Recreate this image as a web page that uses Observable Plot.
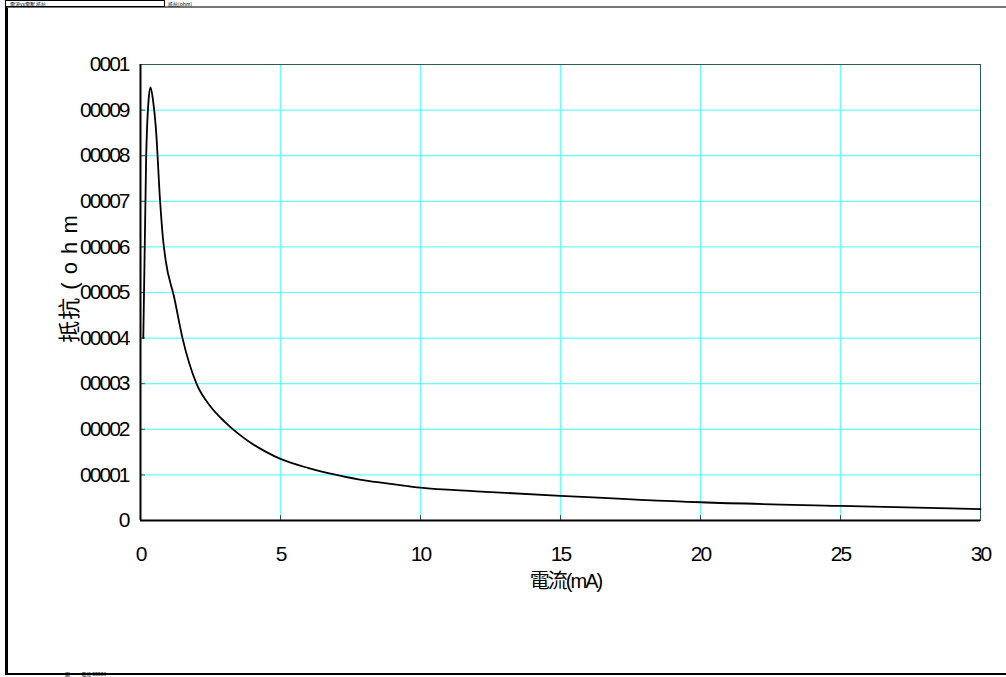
<!DOCTYPE html>
<html><head><meta charset="utf-8">
<script src="https://cdn.jsdelivr.net/npm/d3@7"></script>
<script src="https://cdn.jsdelivr.net/npm/@observablehq/plot@0.6"></script>
<style>
body{margin:0;background:#fff;font-family:"Liberation Sans","Noto Sans CJK TC",sans-serif;}
#wrap{position:relative;width:1006px;height:677px;overflow:hidden;}
#frame{position:absolute;left:5px;top:6px;width:1010px;height:665px;border-left:3px solid #000;border-top:2px solid #777;border-bottom:2px solid #000;pointer-events:none;}
#ttl{position:absolute;left:5px;top:0px;width:150px;height:5px;border:1px solid #000;font:5px/6px "Noto Sans CJK TC";white-space:nowrap;padding:0 4px;}
#ttl2{position:absolute;left:168px;top:1px;font:5px/5px "Noto Sans CJK TC";white-space:nowrap;}
#foot{position:absolute;left:65px;top:671px;font:5px/6px "Noto Sans CJK TC";white-space:nowrap;}
</style></head>
<body><div id="wrap"><div id="chart"></div><div id="frame"></div><div id="ttl">電流vs電壓 抵抗</div><div id="ttl2">抵抗(ohm)</div><div id="foot">圖 &nbsp;&nbsp;&nbsp;&nbsp;&nbsp;&nbsp;&nbsp;&nbsp;&nbsp;電流 00003</div></div>
<script>
const current = [0.1, 0.2, 0.3, 0.36, 0.45, 0.55, 0.7, 0.8, 0.9, 1.2, 1.5, 2.0, 2.5, 3.0, 3.5, 4, 4.5, 5, 6, 7, 8, 9, 10, 12, 15, 20, 25, 30];
const resistance = [0.0004, 0.00079, 0.00093, 0.00095, 0.00092, 0.00086, 0.0007, 0.00062, 0.00057, 0.00049, 0.0004, 0.0003, 0.00025, 0.000217, 0.00019, 0.000168, 0.00015, 0.000135, 0.000115, 0.0001, 0.000088, 0.00008, 0.000072, 0.000064, 0.000054, 0.00004, 0.000032, 0.000025];
const xTicks = [0, 5, 10, 15, 20, 25, 30];
const yTicks = [0, 0.0001, 0.0002, 0.0003, 0.0004, 0.0005, 0.0006, 0.0007, 0.0008, 0.0009, 0.001];
const yTickLabels = ["0", "00001", "00002", "00003", "00004", "00005", "00006", "00007", "00008", "00009", "0001"];
const xLabel = "電流(mA)";
const yLabel = "抵抗 ( o h m";

const data = current.map((c, i) => ({c, r: resistance[i]}));

const chart = Plot.plot({
  width: 1006, height: 677,
  marginLeft: 140, marginRight: 26, marginTop: 64, marginBottom: 157,
  style: {background: "transparent", color: "#000", fontFamily: "'Liberation Sans','Noto Sans CJK TC',sans-serif", fontSize: "21px", letterSpacing: "-2px"},
  x: {domain: [0, 30]},
  y: {domain: [0, 0.001]},
  marks: [
    Plot.gridX(xTicks.slice(1), {stroke: "#66ffff", strokeOpacity: 1, strokeWidth: 1.2}),
    Plot.gridY(yTicks.slice(1), {stroke: "#66ffff", strokeOpacity: 1, strokeWidth: 1.2}),
    Plot.frame({stroke: "#2f5a5a", strokeWidth: 1}),
    Plot.axisX(xTicks, {tickSize: -5, text: null, stroke: "#2f5a5a", label: null}),
    Plot.axisY(yTicks, {tickSize: -5, text: null, stroke: "#2f5a5a", label: null}),
    Plot.axisX(xTicks, {tickSize: 0, tickPadding: 26, label: null, fontSize: 21}),
    Plot.axisY(yTicks, {tickSize: 0, tickPadding: 12, label: null, fontSize: 21, tickFormat: (d) => yTickLabels[yTicks.indexOf(d)]}),
    Plot.ruleX([0], {stroke: "#000", strokeWidth: 2}),
    Plot.ruleY([0], {stroke: "#000", strokeWidth: 2}),
    Plot.line(data, {x: "c", y: "r", stroke: "#000", strokeWidth: 1.8, curve: "monotone-x"}),
    Plot.text([xLabel], {frameAnchor: "bottom", textAnchor: "middle", dx: 5, dy: 61, fontSize: 20, lineAnchor: "middle"}),
    Plot.text([yLabel], {frameAnchor: "left", textAnchor: "middle", dx: -71, dy: -14, rotate: -90, fontSize: 22, lineAnchor: "middle"})
  ]
});
d3.select(chart).selectAll("text").filter(function() { return this.textContent === yLabel; })
  .attr("letter-spacing", "1px").style("letter-spacing", "1px").style("white-space", "pre");
document.getElementById("chart").appendChild(chart);
</script>
</body></html>
